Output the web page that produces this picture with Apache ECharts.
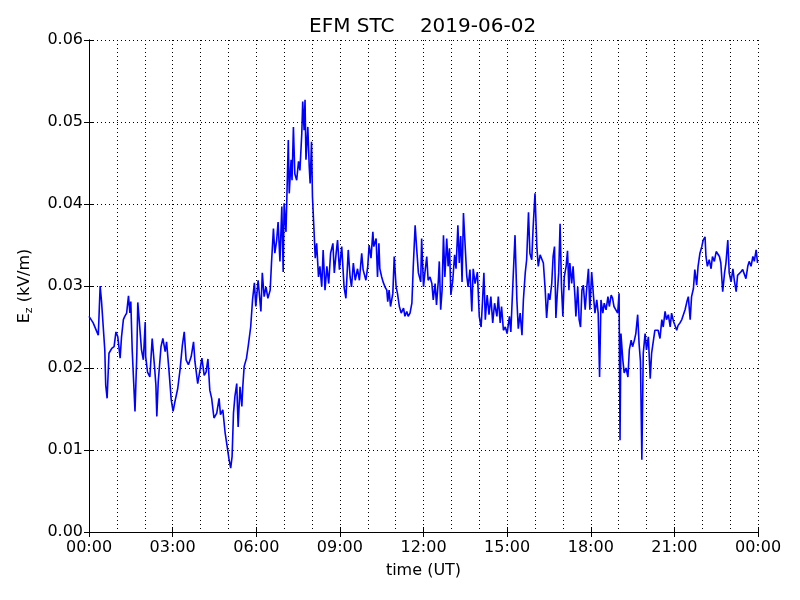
<!DOCTYPE html>
<html>
<head>
<meta charset="utf-8">
<script src="https://cdn.jsdelivr.net/npm/echarts@6/dist/echarts.min.js"></script>
<style>html,body{margin:0;padding:0;background:#fff;}#c{width:800px;height:600px;}</style>
</head>
<body>
<div id="c"></div>
<script>
// time in minutes since 00:00 UT
var minutes = [0,2,9,17,20,24,27,31,34,36,39,43,49,54,58,62,67,70,74,77,81,85,88,90,93,99,103,105,108,113,117,121,122,126,131,136,141,144,146,149,155,159,164,167,172,177,181,185,191,196,201,205,209,214,220,225,228,234,239,243,
248,252,256,260,264,269,275,280,283,288,293,298,301,305,308,311,314,318,321,325,329,331,334,339,343,
348,352,356,359,364,370,373,377,381,385,390,393,397,400,404,407,411,415,418,420,424,427,429,431,435,437,440,443,447,451,454,458,460,463,465,467,471,474,476,479,481,484,487,490,494,497,501,504,508,512,516,520,525,528,532,535,539,544,549,553,558,
562,565,569,573,578,582,587,590,596,600,603,607,611,613,618,621,624,626,630,633,637,641,643,646,649,654,657,661,664,668,672,677,680,684,687,691,695,698,702,705,709,714,
716,720,723,727,730,734,738,741,745,748,752,754,757,760,763,766,770,773,776,779,783,787,790,794,797,800,803,806,809,813,816,820,824,827,831,836,840,844,847,850,853,857,861,865,869,873,878,881,885,888,892,896,900,905,908,913,917,921,924,928,932,935,939,942,946,949,953,956,960,964,967,971,
974,978,982,985,989,992,996,999,1002,1005,1008,1011,1014,1017,1020,1023,1027,1030,1033,1035,1039,1042,1046,1048,1052,1055,1058,1061,1064,1068,1071,1075,1078,1082,1086,1089,1093,1096,1099,1102,1106,1109,1113,1117,1120,1124,1127,1130,1134,1138,1141,1143,1145,1149,1152,1156,1160,1163,1167,1170,1174,1177,1181,1184,1187,1190,1193,1197,1200,1204,1208,1211,1214,1218,
1225,1229,1233,1236,1240,1243,1247,1251,1254,1258,1261,1265,1268,1272,1276,1279,1283,1287,1290,1294,1297,1301,1304,1308,1311,1315,1319,1322,1326,1328,1331,1335,1339,1342,1346,1350,1353,1357,1360,1364,1368,1371,1375,1378,1382,1386,1389,1393,1396,1400,1403,1407,1411,1414,1418,1421,1425,1429,1432,1436,1439];

// vertical electric field Ez (kV/m)
var ez = [0.0263,0.0263,0.0255,0.0244,0.0240,0.0300,0.0281,0.0283,0.0222,0.0179,0.0163,0.0218,0.0224,0.0226,0.0244,0.0238,0.0212,0.0238,0.0259,0.0263,0.0267,0.0288,0.0267,0.0281,0.0222,0.0147,0.0218,0.0280,0.0259,0.0222,0.0210,0.0256,0.0214,0.0195,0.0189,0.0236,0.0202,0.0179,0.0141,0.0183,0.0226,0.0236,0.0220,0.0232,0.0198,0.0161,0.0147,0.0159,0.0175,0.0198,0.0228,0.0244,0.0210,0.0204,0.0214,0.0232,0.0208,0.0181,0.0198,0.0212,
0.0191,0.0195,0.0211,0.0173,0.0163,0.0139,0.0145,0.0163,0.0143,0.0149,0.0121,0.0102,0.0090,0.0078,0.0092,0.0145,0.0165,0.0181,0.0128,0.0177,0.0153,0.0177,0.0202,0.0212,0.0228,
0.0250,0.0283,0.0304,0.0275,0.0307,0.0269,0.0316,0.0287,0.0299,0.0285,0.0295,0.0330,0.0370,0.0340,0.0356,0.0378,0.0330,0.0397,0.0317,0.0401,0.0366,0.0433,0.0478,0.0413,0.0454,0.0429,0.0494,0.0437,0.0429,0.0452,0.0441,0.0486,0.0525,0.0490,0.0527,0.0454,0.0494,0.0446,0.0425,0.0476,0.0409,0.0372,0.0334,0.0352,0.0311,0.0324,0.0299,0.0344,0.0295,0.0324,0.0303,0.0340,0.0352,0.0316,0.0340,0.0356,0.0320,0.0348,0.0299,0.0285,0.0344,
0.0311,0.0299,0.0328,0.0307,0.0321,0.0307,0.0340,0.0320,0.0307,0.0324,0.0350,0.0334,0.0366,0.0348,0.0358,0.0311,0.0352,0.0321,0.0311,0.0305,0.0299,0.0295,0.0281,0.0295,0.0275,0.0291,0.0336,0.0299,0.0291,0.0275,0.0267,0.0273,0.0263,0.0269,0.0263,0.0267,0.0279,0.0324,0.0374,0.0348,0.0316,0.0305,
0.0358,0.0299,0.0316,0.0336,0.0307,0.0311,0.0303,0.0283,0.0303,0.0277,0.0307,0.0330,0.0271,0.0295,0.0362,0.0311,0.0358,0.0324,0.0346,0.0289,0.0307,0.0338,0.0321,0.0374,0.0328,0.0361,0.0305,0.0389,0.0356,0.0313,0.0299,0.0320,0.0269,0.0321,0.0303,0.0317,0.0263,0.0250,0.0281,0.0316,0.0259,0.0289,0.0265,0.0287,0.0255,0.0279,0.0263,0.0287,0.0255,0.0275,0.0246,0.0250,0.0242,0.0263,0.0244,0.0311,0.0362,0.0283,0.0248,0.0267,0.0240,0.0283,0.0316,0.0332,0.0390,0.0340,0.0332,0.0372,0.0413,0.0348,0.0324,0.0338,
0.0336,0.0328,0.0295,0.0261,0.0291,0.0283,0.0303,0.0336,0.0348,0.0261,0.0291,0.0316,0.0376,0.0299,0.0263,0.0311,0.0324,0.0343,0.0295,0.0328,0.0303,0.0324,0.0287,0.0263,0.0299,0.0259,0.0250,0.0295,0.0301,0.0271,0.0295,0.0321,0.0271,0.0317,0.0287,0.0267,0.0283,0.0267,0.0189,0.0283,0.0267,0.0279,0.0271,0.0287,0.0275,0.0289,0.0285,0.0275,0.0271,0.0267,0.0291,0.0112,0.0242,0.0210,0.0194,0.0200,0.0189,0.0222,0.0234,0.0226,0.0234,0.0242,0.0265,0.0230,0.0208,0.0088,0.0218,0.0242,0.0222,0.0238,0.0187,0.0218,0.0230,0.0246,
0.0246,0.0236,0.0259,0.0250,0.0269,0.0259,0.0265,0.0250,0.0267,0.0257,0.0255,0.0246,0.0252,0.0255,0.0259,0.0257,0.0271,0.0281,0.0287,0.0259,0.0287,0.0297,0.0320,0.0301,0.0324,0.0340,0.0348,0.0356,0.0360,0.0336,0.0324,0.0332,0.0321,0.0336,0.0330,0.0342,0.0344,0.0336,0.0328,0.0293,0.0316,0.0328,0.0356,0.0316,0.0305,0.0321,0.0307,0.0293,0.0313,0.0311,0.0317,0.0320,0.0321,0.0309,0.0324,0.0330,0.0324,0.0336,0.0330,0.0344,0.0328];

var titleText = 'EFM STC    2019-06-02';
var xName = 'time (UT)';
var yTicks = [0, 0.06, 0.01];   // min, max, step
var xTicks = [0, 1440, 180];    // minutes

var data = minutes.map(function (m, i) { return [m, ez[i]]; });

function fmtTime(v) {
  var m = Math.round(v) % 1440;
  var h = Math.floor(m / 60), mm = m % 60;
  return (h < 10 ? '0' : '') + h + ':' + (mm < 10 ? '0' : '') + mm;
}

var font = 'DejaVu Sans';
var dotted = { color: '#000', width: 1, type: [1, 3] };

var chart = echarts.init(document.getElementById('c'), null, { renderer: 'canvas' });
chart.setOption({
  animation: false,
  backgroundColor: '#fff',
  title: {
    text: titleText, left: 309, top: 17, padding: 0,
    textStyle: { fontFamily: font, fontSize: 20, fontWeight: 'normal', color: '#000' }
  },
  grid: { left: 89, right: 42, top: 40, bottom: 68 },
  xAxis: [{
    type: 'value', min: xTicks[0], max: xTicks[1], interval: xTicks[2],
    name: xName, nameLocation: 'middle', nameGap: 31,
    nameTextStyle: { fontFamily: font, fontSize: 16, color: '#000' },
    axisLine: { show: true, lineStyle: { color: '#000', width: 1 } },
    axisTick: { show: true, inside: true, length: 5, lineStyle: { color: '#000' } },
    minorTick: { show: false, splitNumber: 3 },
    axisLabel: { formatter: fmtTime, fontFamily: font, fontSize: 16, color: '#000', margin: 8 },
    splitLine: { show: true, lineStyle: dotted },
    minorSplitLine: { show: true, lineStyle: dotted }
  }, {
    type: 'value', position: 'top', min: xTicks[0], max: xTicks[1], interval: xTicks[2],
    axisLine: { show: true, lineStyle: { color: '#000', width: 1 } },
    axisTick: { show: true, inside: true, length: 5, lineStyle: { color: '#000' } },
    axisLabel: { show: false }, splitLine: { show: false }
  }],
  yAxis: [{
    type: 'value', min: yTicks[0], max: yTicks[1], interval: yTicks[2],
    name: '{a|E}{b|z}{a| (kV/m)}', nameLocation: 'middle', nameGap: 54, nameRotate: 90,
    nameTextStyle: {
      fontFamily: font, fontSize: 16, color: '#000',
      rich: {
        a: { fontFamily: font, fontSize: 16, color: '#000' },
        b: { fontFamily: font, fontSize: 11, color: '#000', padding: [9, 0, 0, 0] }
      }
    },
    axisLine: { show: true, lineStyle: { color: '#000', width: 1 } },
    axisTick: { show: true, inside: true, length: 5, lineStyle: { color: '#000' } },
    axisLabel: { formatter: function (v) { return v.toFixed(2); }, fontFamily: font, fontSize: 16, color: '#000', margin: 6 },
    splitLine: { show: true, lineStyle: dotted }
  }, {
    type: 'value', position: 'right', min: yTicks[0], max: yTicks[1], interval: yTicks[2],
    axisLine: { show: true, lineStyle: { color: '#000', width: 1 } },
    axisTick: { show: true, inside: true, length: 5, lineStyle: { color: '#000' } },
    axisLabel: { show: false }, splitLine: { show: false }
  }],
  series: [{
    type: 'line', data: data, showSymbol: false, symbol: 'none',
    lineStyle: { color: '#0000ff', width: 1.6 },
    clip: true
  }]
});
</script>
</body>
</html>
